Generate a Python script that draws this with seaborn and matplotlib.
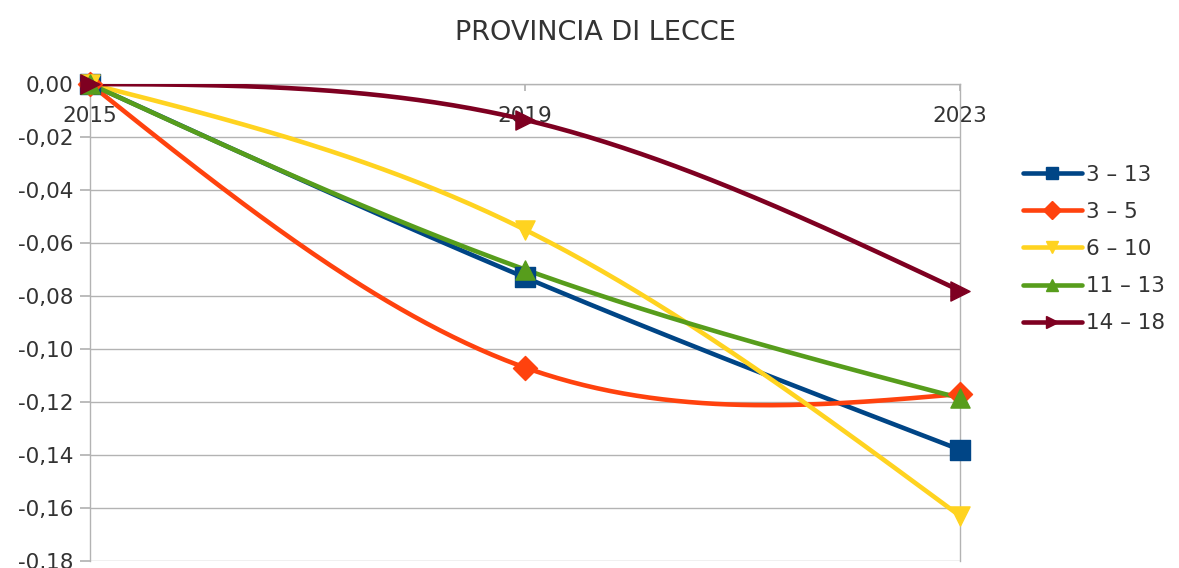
import numpy as np
import pandas as pd
import matplotlib
matplotlib.use("Agg")
import matplotlib.pyplot as plt
import seaborn as sns
from matplotlib.lines import Line2D
from matplotlib.ticker import FuncFormatter

sns.set_theme(style="white")
plt.rcParams['font.family'] = ['DejaVu Sans']

# dati
anni = ["2015", "2019", "2023"]
fasce = ["3 – 13", "3 – 5", "6 – 10", "11 – 13", "14 – 18"]
v_3_13 = [0.0, -0.073, -0.138]
v_3_5 = [0.0, -0.107, -0.117]
v_6_10 = [0.0, -0.055, -0.163]
v_11_13 = [0.0, -0.070, -0.1185]
v_14_18 = [0.0, -0.0135, -0.078]
valori = [v_3_13, v_3_5, v_6_10, v_11_13, v_14_18]

colori = ["#004586", "#ff420e", "#ffd320", "#579d1c", "#7e0021"]
marcatori = ["s", "D", "v", "^", ">"]
dimensioni = [200, 150, 190, 190, 190]


def spline_naturale(y, n=200):
    # spline cubica naturale su punti equidistanti (come la linea smussata di Calc)
    y = np.asarray(y, dtype=float)
    k = len(y)
    A = np.zeros((k, k))
    b = np.zeros(k)
    A[0, 0] = A[-1, -1] = 1
    for i in range(1, k - 1):
        A[i, i - 1], A[i, i], A[i, i + 1] = 1, 4, 1
        b[i] = 6 * (y[i - 1] - 2 * y[i] + y[i + 1])
    M = np.linalg.solve(A, b)
    xs = np.linspace(0, k - 1, n)
    ys = []
    for x in xs:
        i = min(int(x), k - 2)
        t = x - i
        ys.append((1 - t) * y[i] + t * y[i + 1]
                  + ((1 - t) ** 3 - (1 - t)) * M[i] / 6
                  + (t ** 3 - t) * M[i + 1] / 6)
    return xs, np.array(ys)


curve = []
punti = []
for nome, vals in zip(fasce, valori):
    xs, ys = spline_naturale(vals)
    curve.append(pd.DataFrame({"x": xs, "y": ys, "fascia": nome}))
    punti.append(pd.DataFrame({"x": range(len(anni)), "y": vals, "fascia": nome}))
df_curve = pd.concat(curve)
df_punti = pd.concat(punti)

fig = plt.figure(figsize=(11.79, 5.68), dpi=100)
ax = fig.add_axes([90 / 1179, 1 - 561 / 568, 870 / 1179, 477 / 568])

pal = dict(zip(fasce, colori))
sns.lineplot(data=df_curve, x="x", y="y", hue="fascia", palette=pal,
             estimator=None, sort=False, linewidth=3.3, legend=False, ax=ax, zorder=3)
for nome, col, m, s in zip(fasce, colori, marcatori, dimensioni):
    sub = df_punti[df_punti["fascia"] == nome]
    ax.scatter(sub["x"], sub["y"], color=col, marker=m, s=s, zorder=4,
               clip_on=False, edgecolors=col)

ax.set_xlim(0, 2)
ax.set_ylim(-0.18, 0)
ax.set_yticks(np.arange(-0.18, 0.001, 0.02))
ax.yaxis.set_major_formatter(FuncFormatter(lambda v, p: f"{v:.2f}".replace(".", ",").replace("-0,00", "0,00")))
ax.set_xticks(range(len(anni)))
ax.set_xticklabels(anni)
ax.set_xlabel("")
ax.set_ylabel("")
ax.grid(axis="y", color="#b3b3b3", linewidth=1)
ax.set_axisbelow(True)

ax.spines["top"].set_visible(False)
ax.spines["bottom"].set_position(("data", 0))
for s in ["left", "right", "bottom"]:
    ax.spines[s].set_color("#b3b3b3")
    ax.spines[s].set_linewidth(1)
ax.tick_params(axis="y", left=True, length=7, color="#b3b3b3", pad=5, labelsize=15.5, labelcolor="#333333")
ax.tick_params(axis="x", bottom=True, length=5, color="#b3b3b3", pad=11, labelsize=15.5, labelcolor="#333333")

fig.text(595 / 1179, 1 - 33 / 568, "PROVINCIA DI LECCE", ha="center", va="center",
         fontsize=19.5, color="#333333")

handles = [Line2D([0], [0], color=c, marker=m, linewidth=3.3, markersize=9, markeredgecolor=c)
           for c, m in zip(colori, marcatori)]
fig.legend(handles, fasce, loc="center left", bbox_to_anchor=(1004 / 1179, 1 - 249 / 568),
           frameon=False, fontsize=15.5, handlelength=2.7, handletextpad=0.2,
           labelspacing=0.8, labelcolor="#333333")

fig.savefig("out.png", dpi=100)
